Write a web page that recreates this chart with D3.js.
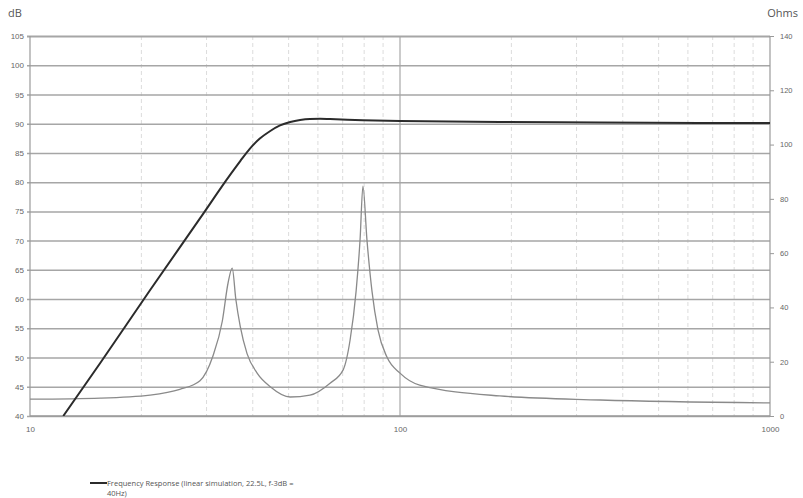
<!DOCTYPE html>
<html>
<head>
<meta charset="utf-8">
<script src="https://cdn.jsdelivr.net/npm/d3@7"></script>
<style>
  html, body { margin: 0; padding: 0; background: #fff; }
  svg { display: block; font-family: "Open Sans", "DejaVu Sans", sans-serif; }
</style>
</head>
<body>
<svg id="chart" width="803" height="498"></svg>
<script>
// ---- data ----
const frFreq = [12.3, 15.5, 21.1, 28.8, 34.7, 37.0, 39.3, 41.8, 44.6, 47.4, 50.5, 53.7, 57.1, 60.8, 64.7, 79.4, 100, 186, 348, 1000];
const frDb   = [40, 49.1, 61.5, 73.8, 81.2, 83.6, 85.75, 87.45, 88.75, 89.7, 90.3, 90.65, 90.82, 90.85, 90.8, 90.6, 90.45, 90.3, 90.2, 90.1];

const impFreq = [10, 15.5, 21.1, 25.4, 28.8, 31.2, 33.1, 34.3, 35.2, 36.0, 37.0, 38.6, 41.1, 44.6, 50.5, 57.1, 64.7, 70.2, 73.3, 76.1, 78.0, 79.4, 81.4, 84.0, 87.2, 92.2, 100, 113, 186, 348, 1000];
const impOhm  = [6.2, 6.6, 7.7, 9.8, 13.0, 22, 35, 49, 54.5, 43, 33, 23, 15.8, 10.8, 7.0, 7.7, 12.1, 17, 28, 46, 65, 84.7, 65, 46, 31.7, 21.7, 15.8, 11.4, 7.4, 5.9, 4.8];

const dbTicks  = [40, 45, 50, 55, 60, 65, 70, 75, 80, 85, 90, 95, 100, 105];
const ohmTicks = [0, 20, 40, 60, 80, 100, 120, 140];
const freqTicks = [10, 100, 1000];
const minorFreq = [20, 30, 40, 50, 60, 70, 80, 90, 200, 300, 400, 500, 600, 700, 800, 900];
const legendLines = ["Frequency Response (linear simulation, 22.5L, f-3dB =", "40Hz)"];

// ---- layout ----
const svg = d3.select("#chart");
const L = 30, R = 770, T = 36, B = 416;

const x = d3.scaleLog().domain([10, 1000]).range([L, R]);
const y = d3.scaleLinear().domain([40, 105]).range([B, T]);
const y2 = d3.scaleLinear().domain([0, 140]).range([B, T]);

// minor vertical gridlines
svg.append("g").selectAll("line").data(minorFreq).join("line")
  .attr("x1", d => x(d)).attr("x2", d => x(d))
  .attr("y1", T).attr("y2", B)
  .attr("stroke", "#dcdcdc").attr("stroke-width", 1)
  .attr("stroke-dasharray", "4,3");

// major vertical gridline at 100
svg.append("line")
  .attr("x1", x(100)).attr("x2", x(100)).attr("y1", T).attr("y2", B)
  .attr("stroke", "#a8a8a8").attr("stroke-width", 1.2);

// horizontal gridlines (left axis)
const leftAxis = d3.axisLeft(y).tickValues(dbTicks).tickSize(-(R - L)).tickPadding(6).tickFormat(d3.format("d"));
const gL = svg.append("g").attr("transform", `translate(${L},0)`).call(leftAxis);
gL.select(".domain").remove();
gL.selectAll(".tick line")
  .attr("x1", -3)
  .attr("stroke", "#a6a6a6").attr("stroke-width", d => d === 105 ? 2.2 : 1.5);
gL.selectAll(".tick text").attr("fill", "#666").attr("font-size", 8);

// right axis
const rightAxis = d3.axisRight(y2).tickValues(ohmTicks).tickSize(4).tickPadding(6).tickFormat(d3.format("d"));
const gR = svg.append("g").attr("transform", `translate(${R},0)`).call(rightAxis);
gR.select(".domain").remove();
gR.selectAll(".tick line").attr("stroke", "#999");
gR.selectAll(".tick text").attr("fill", "#666").attr("font-size", 7.5);

// frame lines
svg.append("line").attr("x1", L).attr("x2", L).attr("y1", T).attr("y2", B)
  .attr("stroke", "#9a9a9a").attr("stroke-width", 1.2);
svg.append("line").attr("x1", R).attr("x2", R).attr("y1", T).attr("y2", B)
  .attr("stroke", "#9a9a9a").attr("stroke-width", 1.2);
svg.append("line").attr("x1", L).attr("x2", R).attr("y1", B).attr("y2", B)
  .attr("stroke", "#9a9a9a").attr("stroke-width", 1.5);

// bottom axis labels
const bottomAxis = d3.axisBottom(x).tickValues(freqTicks).tickSize(0).tickPadding(10).tickFormat(d3.format("d"));
const gB = svg.append("g").attr("transform", `translate(0,${B})`).call(bottomAxis);
gB.select(".domain").remove();
gB.selectAll(".tick text").attr("fill", "#666").attr("font-size", 8);

// axis titles
svg.append("text").attr("x", 8).attr("y", 17).text("dB")
  .attr("font-size", 11).attr("fill", "#555");
svg.append("text").attr("x", 798).attr("y", 17).attr("text-anchor", "end").text("Ohms")
  .attr("font-size", 11).attr("fill", "#555");

// curves
svg.append("clipPath").attr("id", "plotclip")
  .append("rect").attr("x", L).attr("y", T - 2).attr("width", R - L).attr("height", B - T + 2);

const impData = impFreq.map((f, i) => [f, impOhm[i]]);
const frData = frFreq.map((f, i) => [f, frDb[i]]);

svg.append("path").datum(impData)
  .attr("clip-path", "url(#plotclip)")
  .attr("fill", "none").attr("stroke", "#8a8a8a").attr("stroke-width", 1.3)
  .attr("d", d3.line().x(d => x(d[0])).y(d => y2(d[1])).curve(d3.curveMonotoneX));

svg.append("path").datum(frData)
  .attr("clip-path", "url(#plotclip)")
  .attr("fill", "none").attr("stroke", "#2b2b2b").attr("stroke-width", 2)
  .attr("d", d3.line().x(d => x(d[0])).y(d => y(d[1])).curve(d3.curveMonotoneX));

// legend
const lg = svg.append("g");
lg.append("line").attr("x1", 90).attr("x2", 107).attr("y1", 483).attr("y2", 483)
  .attr("stroke", "#2b2b2b").attr("stroke-width", 2);
lg.selectAll("text").data(legendLines).join("text")
  .attr("x", 107).attr("y", (d, i) => 486 + i * 10)
  .attr("font-size", 7.5).attr("fill", "#555")
  .text(d => d);
</script>
</body>
</html>
